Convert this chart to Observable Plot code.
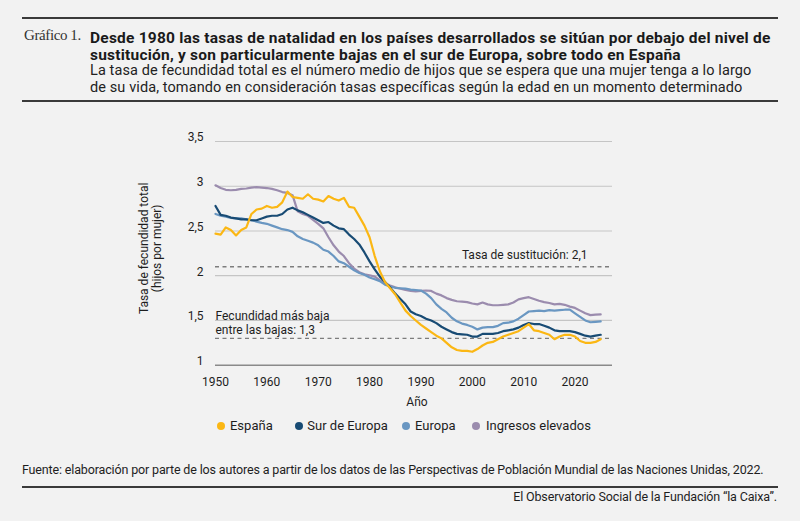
<!DOCTYPE html>
<html>
<head>
<meta charset="utf-8">
<script src="https://cdn.jsdelivr.net/npm/d3@7"></script>
<script src="https://cdn.jsdelivr.net/npm/@observablehq/plot@0.6"></script>
<style>
  html, body { margin: 0; padding: 0; background: #f2f2f2; }
  body { width: 800px; height: 521px; position: relative; overflow: hidden; font-family: Roboto, sans-serif; color: #1e1e1e; }
  .rule { position: absolute; left: 22px; width: 756px; height: 2px; background: #3a3a3a; }
  #hdr-label { position: absolute; left: 24px; top: 27px; font-family: "Liberation Serif", serif; font-size: 15px; line-height: 17.5px; color: #333; letter-spacing: -0.4px; }
  .t { position: absolute; left: 90px; top: 29.5px; line-height: 17px; white-space: nowrap; font-size: 15.5px; font-weight: 700; letter-spacing: 0.22px; color: #1a1a1a; }
  .s { position: absolute; left: 90px; top: 62px; line-height: 17.3px; white-space: nowrap; font-size: 14.5px; font-weight: 400; letter-spacing: 0.1px; color: #222; }
  #chart { position: absolute; left: 0; top: 110px; }
  .leg { position: absolute; top: 417px; font-size: 13px; line-height: 17px; white-space: nowrap; color: #1e1e1e; }
  .leg i { position: absolute; top: 4.5px; width: 8px; height: 8px; border-radius: 50%; }
  #src { position: absolute; left: 22px; top: 462px; font-size: 12.5px; line-height: 16px; letter-spacing: -0.15px; white-space: nowrap; }
  #credit { position: absolute; right: 23px; top: 489px; font-size: 12.5px; line-height: 16px; letter-spacing: -0.15px; white-space: nowrap; }
</style>
</head>
<body>
<div class="rule" style="top:17px"></div>
<div id="hdr-label">Gráfico 1.</div>
<div class="t">Desde 1980 las tasas de natalidad en los países desarrollados se sitúan por debajo del nivel de<br>sustitución, y son particularmente bajas en el sur de Europa, sobre todo en España</div>
<div class="s">La tasa de fecundidad total es el número medio de hijos que se espera que una mujer tenga a lo largo<br>de su vida, tomando en consideración tasas específicas según la edad en un momento determinado</div>
<div class="rule" style="top:100px"></div>
<div id="chart"></div>
<div id="legend"></div>
<div id="src">Fuente: elaboración por parte de los autores a partir de los datos de las Perspectivas de Población Mundial de las Naciones Unidas, 2022.</div>
<div class="rule" style="top:486px"></div>
<div id="credit">El Observatorio Social de la Fundación “la Caixa”.</div>

<script>
// ---- Data ----
const years = [1950,1951,1952,1953,1954,1955,1956,1957,1958,1959,
  1960,1961,1962,1963,1964,1965,1966,1967,1968,1969,
  1970,1971,1972,1973,1974,1975,1976,1977,1978,1979,
  1980,1981,1982,1983,1984,1985,1986,1987,1988,1989,
  1990,1991,1992,1993,1994,1995,1996,1997,1998,1999,
  2000,2001,2002,2003,2004,2005,2006,2007,2008,2009,
  2010,2011,2012,2013,2014,2015,2016,2017,2018,2019,
  2020,2021,2022,2023,2024,2025];

const espana = [2.47,2.46,2.54,2.51,2.45,2.51,2.54,2.69,2.74,2.75,
  2.78,2.76,2.77,2.82,2.94,2.88,2.87,2.86,2.91,2.86,
  2.85,2.83,2.89,2.86,2.84,2.87,2.77,2.76,2.66,2.56,
  2.43,2.22,2.05,1.93,1.86,1.79,1.70,1.61,1.55,1.50,
  1.45,1.41,1.37,1.33,1.30,1.25,1.20,1.17,1.16,1.16,
  1.15,1.18,1.22,1.25,1.26,1.29,1.32,1.34,1.36,1.38,
  1.42,1.46,1.39,1.38,1.36,1.34,1.29,1.32,1.34,1.34,
  1.32,1.27,1.25,1.25,1.26,1.29];

const surEuropa = [2.78,2.68,2.67,2.65,2.64,2.63,2.63,2.62,2.62,2.64,
  2.66,2.67,2.67,2.69,2.74,2.76,2.73,2.71,2.68,2.65,
  2.62,2.59,2.60,2.56,2.53,2.52,2.46,2.41,2.35,2.26,
  2.16,2.07,1.99,1.93,1.87,1.80,1.74,1.68,1.60,1.57,
  1.55,1.52,1.50,1.47,1.43,1.40,1.37,1.35,1.345,1.34,
  1.32,1.32,1.35,1.35,1.35,1.36,1.38,1.39,1.40,1.42,
  1.45,1.47,1.46,1.46,1.44,1.42,1.39,1.38,1.38,1.38,
  1.37,1.35,1.33,1.32,1.33,1.34];

const europa = [2.69,2.67,2.66,2.645,2.64,2.64,2.63,2.62,2.605,2.59,
  2.58,2.56,2.54,2.52,2.51,2.49,2.44,2.41,2.39,2.37,
  2.34,2.29,2.27,2.22,2.16,2.14,2.10,2.06,2.03,2.01,
  1.98,1.96,1.94,1.90,1.88,1.865,1.86,1.855,1.845,1.84,
  1.835,1.80,1.75,1.68,1.63,1.59,1.53,1.49,1.465,1.45,
  1.43,1.40,1.42,1.425,1.425,1.44,1.47,1.475,1.49,1.52,
  1.56,1.60,1.605,1.61,1.605,1.615,1.61,1.615,1.62,1.62,
  1.58,1.54,1.50,1.48,1.485,1.49];

const ingresosElevados = [3.01,2.98,2.96,2.955,2.96,2.97,2.975,2.985,2.99,2.985,
  2.98,2.97,2.955,2.935,2.925,2.90,2.72,2.69,2.67,2.625,
  2.58,2.53,2.43,2.34,2.27,2.22,2.14,2.08,2.04,2.015,
  2.005,1.99,1.95,1.915,1.89,1.87,1.855,1.84,1.83,1.825,
  1.83,1.835,1.83,1.80,1.78,1.75,1.73,1.715,1.71,1.705,
  1.69,1.68,1.70,1.68,1.67,1.67,1.675,1.68,1.70,1.735,
  1.75,1.76,1.74,1.72,1.705,1.695,1.68,1.685,1.675,1.655,
  1.64,1.61,1.58,1.56,1.565,1.567];

const seriesNames = ["España", "Sur de Europa", "Europa", "Ingresos elevados"];
const seriesColors = ["#fbb714", "#184b74", "#6a97c2", "#9b8cae"];
const xTicks = [1950,1960,1970,1980,1990,2000,2010,2020];
const yTicks = [1,1.5,2,2.5,3,3.5];
const yGrid = [1.5,2,2.5,3,3.5];
const tasaSustitucion = 2.1;
const fecundidadMasBaja = 1.3;

// ---- Build tidy table ----
const seriesValues = [espana, surEuropa, europa, ingresosElevados];
const rows = [];
seriesNames.forEach((name, i) => {
  years.forEach((yr, j) => rows.push({serie: name, year: yr, value: seriesValues[i][j]}));
});
const drawOrder = ["Ingresos elevados", "Europa", "Sur de Europa", "España"];
rows.sort((a, b) => drawOrder.indexOf(a.serie) - drawOrder.indexOf(b.serie));

const fmt = d => String(d).replace(".", ",");

const chart = Plot.plot({
  width: 800,
  height: 300,
  marginLeft: 215,
  marginRight: 188,
  marginTop: 31,
  marginBottom: 45.3,
  style: {background: "transparent", fontFamily: "Roboto, sans-serif", fontSize: "12px", color: "#1e1e1e"},
  x: {domain: [1950, 2027.3]},
  y: {domain: [1, 3.5]},
  color: {domain: seriesNames, range: seriesColors},
  marks: [
    Plot.ruleY(yGrid, {stroke: "#c5c5c5", strokeWidth: 1.2}),
    Plot.ruleY([1], {stroke: "#8a8a8a", strokeWidth: 1.4}),
    Plot.ruleY([tasaSustitucion, fecundidadMasBaja], {stroke: "#7d7d7d", strokeWidth: 1.3, strokeDasharray: "4,3.5"}),
    Plot.axisY({ticks: yTicks, tickFormat: fmt, tickSize: 0, tickPadding: 12, dy: -4, label: null, fontSize: 12}),
    Plot.axisX({ticks: xTicks, tickFormat: d => String(d), tickSize: 0, tickPadding: 12, label: null, fontSize: 12}),
    Plot.line(rows, {x: "year", y: "value", z: "serie", stroke: "serie", strokeWidth: 2.2, curve: "linear"}),
    Plot.text(["Tasa de fecundidad total\n(hijos por mujer)"], {frameAnchor: "left", dx: -65.5, dy: -5, rotate: -90, textAnchor: "middle", lineHeight: 1.1, fontSize: 12, fill: "#1e1e1e"}),
    Plot.text(["Año"], {frameAnchor: "bottom", dx: 3, dy: 41, textAnchor: "middle", fontSize: 12, fill: "#1e1e1e"}),
    Plot.text([tasaSustitucion], {y: d => d, frameAnchor: "right", text: d => "Tasa de sustitución: " + fmt(d), textAnchor: "end", dx: -25, dy: -11.7, fontSize: 12, letterSpacing: "-0.15px", fill: "#1e1e1e"}),
    Plot.text([fecundidadMasBaja], {y: d => d, frameAnchor: "left", text: d => "Fecundidad más baja\nentre las bajas: " + fmt(d), textAnchor: "start", lineAnchor: "bottom", lineHeight: 1.17, dx: 0, dy: -4.5, fontSize: 12, letterSpacing: "-0.15px", fill: "#1e1e1e"})
  ]
});
document.getElementById("chart").appendChild(chart);

// ---- Legend ----
const legendLeft = [216.7, 295.3, 402, 472];
const legend = document.getElementById("legend");
seriesNames.forEach((name, i) => {
  const d = document.createElement("div");
  d.className = "leg";
  d.style.left = legendLeft[i] + "px";
  d.innerHTML = `<i style="left:0;background:${seriesColors[i]}"></i><span style="margin-left:${i === 0 ? 13.3 : (i === 1 ? 12 : (i === 2 ? 13 : 14))}px">${name}</span>`;
  legend.appendChild(d);
});
</script>
</body>
</html>
